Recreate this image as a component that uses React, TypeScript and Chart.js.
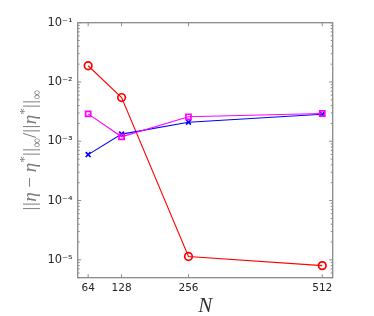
import React, { useEffect, useRef } from 'react';
import { Chart, registerables } from 'chart.js';
Chart.register(...registerables);

const N = [64, 128, 256, 512];
const xTickValues = [64, 128, 256, 512];
const redCircle = [0.0188, 0.00546, 1.14e-5, 8.0e-6];
const magentaSquare = [0.0029, 0.00119, 0.00259, 0.00294];
const blueCross = [5.96e-4, 0.00132, 0.0021, 0.00285];
const yMin = 5e-6;
const yMax = 1e-1;
const xMin = 44;
const xMax = 532;

const SUP: Record<string, string> = { '-': '⁻', '0': '⁰', '1': '¹', '2': '²', '3': '³', '4': '⁴', '5': '⁵', '6': '⁶', '7': '⁷', '8': '⁸', '9': '⁹' };
const sup = (s: string) => s.split('').map((c) => SUP[c] || c).join('');

const AXIS_COLOR = '#8a8a8a';
const LABEL_COLOR = '#262626';
const TITLE_COLOR = '#7a7a7a';

const boxPlugin = {
  id: 'matlabBox',
  afterDatasetsDraw(chart: any) {
    const { ctx, chartArea: a, scales } = chart;
    const xs = scales.x;
    const ys = scales.y;
    ctx.save();
    ctx.strokeStyle = AXIS_COLOR;
    ctx.lineWidth = 1;
    ctx.beginPath();
    for (const v of xTickValues) {
      const px = xs.getPixelForValue(v);
      ctx.moveTo(px, a.bottom);
      ctx.lineTo(px, a.bottom - 3.5);
      ctx.moveTo(px, a.top);
      ctx.lineTo(px, a.top + 3.5);
    }
    for (let e = -6; e <= -1; e++) {
      for (let m = 1; m <= 9; m++) {
        const v = m * Math.pow(10, e);
        if (v < yMin * 0.999 || v > yMax * 1.001) continue;
        const py = ys.getPixelForValue(v);
        const len = m === 1 ? 3.5 : 2;
        ctx.moveTo(a.left, py);
        ctx.lineTo(a.left + len, py);
        ctx.moveTo(a.right, py);
        ctx.lineTo(a.right - len, py);
      }
    }
    ctx.stroke();
    ctx.lineWidth = 1.3;
    ctx.strokeRect(a.left, a.top, a.right - a.left, a.bottom - a.top);
    ctx.restore();
  },
  afterDraw(chart: any) {
    const { ctx, chartArea: a } = chart;
    ctx.save();
    // x title
    ctx.fillStyle = '#333333';
    ctx.font = 'italic 21px "Liberation Serif", "DejaVu Serif", serif';
    ctx.textAlign = 'center';
    ctx.textBaseline = 'alphabetic';
    ctx.fillText('N', (a.left + a.right) / 2, 312);
    // y title with sub/superscripts
    const base = 19;
    const parts: { t: string; italic?: boolean; sub?: boolean; sup?: boolean }[] = [
      { t: '||' }, { t: 'η', italic: true }, { t: ' − ' }, { t: 'η', italic: true }, { t: '*', sup: true },
      { t: '||' }, { t: '∞', sub: true }, { t: '/' }, { t: '||' }, { t: 'η', italic: true }, { t: '*', sup: true },
      { t: '||' }, { t: '∞', sub: true },
    ];
    const fontFor = (p: any) => {
      const size = p.sub || p.sup ? base * 0.7 : base;
      return `${p.italic ? 'italic ' : ''}${size}px "Liberation Serif", "DejaVu Serif", serif`;
    };
    let total = 0;
    const widths: number[] = [];
    for (const p of parts) {
      ctx.font = fontFor(p);
      const w = ctx.measureText(p.t).width + (p.t === '||' ? 1 : 0);
      widths.push(w);
      total += w;
    }
    const cy = (a.top + a.bottom) / 2;
    ctx.translate(36, cy);
    ctx.rotate(-Math.PI / 2);
    ctx.fillStyle = TITLE_COLOR;
    ctx.textAlign = 'left';
    let x = -total / 2;
    parts.forEach((p, i) => {
      ctx.font = fontFor(p);
      const dy = p.sub ? base * 0.25 : p.sup ? -base * 0.4 : 0;
      if (p.t === '||') {
        ctx.fillText('|', x, dy);
        ctx.fillText('|', x + widths[i] / 2, dy);
      } else {
        ctx.fillText(p.t, x, dy);
      }
      x += widths[i];
    });
    ctx.restore();
  },
};

export default function App() {
  const ref = useRef<HTMLCanvasElement | null>(null);
  useEffect(() => {
    if (!ref.current) return;
    const mk = (data: number[], color: string, style: any, r: number) => ({
      data: N.map((n, i) => ({ x: n, y: data[i] })),
      borderColor: color,
      backgroundColor: 'transparent',
      borderWidth: 1.1,
      pointStyle: style,
      pointRadius: r,
      pointBorderWidth: 1.7,
      pointBorderColor: color,
      pointBackgroundColor: 'transparent',
      showLine: true,
      tension: 0,
    });
    const chart = new Chart(ref.current, {
      type: 'scatter',
      data: {
        datasets: [
          mk(magentaSquare, '#ff00ff', 'rect', 3.6),
          mk(blueCross, '#0000ff', 'crossRot', 3.4),
          mk(redCircle, '#ff0000', 'circle', 3.8),
        ],
      },
      plugins: [boxPlugin],
      options: {
        animation: false,
        responsive: false,
        events: [],
        layout: { padding: { left: 0, top: 22.7, right: 41.3, bottom: 0 } },
        plugins: { legend: { display: false }, tooltip: { enabled: false } },
        scales: {
          x: {
            type: 'linear',
            min: xMin,
            max: xMax,
            grid: { display: false, drawTicks: false },
            border: { display: false },
            afterBuildTicks: (s: any) => { s.ticks = xTickValues.map((v) => ({ value: v })); },
            afterFit: (s: any) => { s.height = 38.3; },
            ticks: {
              padding: 4,
              color: LABEL_COLOR,
              font: { family: '"DejaVu Sans", sans-serif', size: 10.5 },
              callback: (v: any) => String(v),
              maxRotation: 0,
              autoSkip: false,
            },
          },
          y: {
            type: 'logarithmic',
            min: yMin,
            max: yMax,
            grid: { display: false, drawTicks: false },
            border: { display: false },
            afterBuildTicks: (s: any) => {
              const t: any[] = [];
              for (let e = -5; e <= -1; e++) t.push({ value: Math.pow(10, e), major: true });
              s.ticks = t;
            },
            afterFit: (s: any) => { s.width = 77.7; },
            ticks: {
              padding: 5,
              color: LABEL_COLOR,
              font: { family: '"DejaVu Sans", sans-serif', size: 11.5 },
              autoSkip: false,
              callback: (v: any) => {
                const e = Math.round(Math.log10(Number(v)));
                return '10' + sup(String(e));
              },
            },
          },
        },
      },
    } as any);
    return () => chart.destroy();
  }, []);
  return (
    <div style={{ position: 'absolute', left: 0, top: 0, width: 374, height: 316, background: '#fff' }}>
      <canvas ref={ref} width={374} height={316} />
    </div>
  );
}
